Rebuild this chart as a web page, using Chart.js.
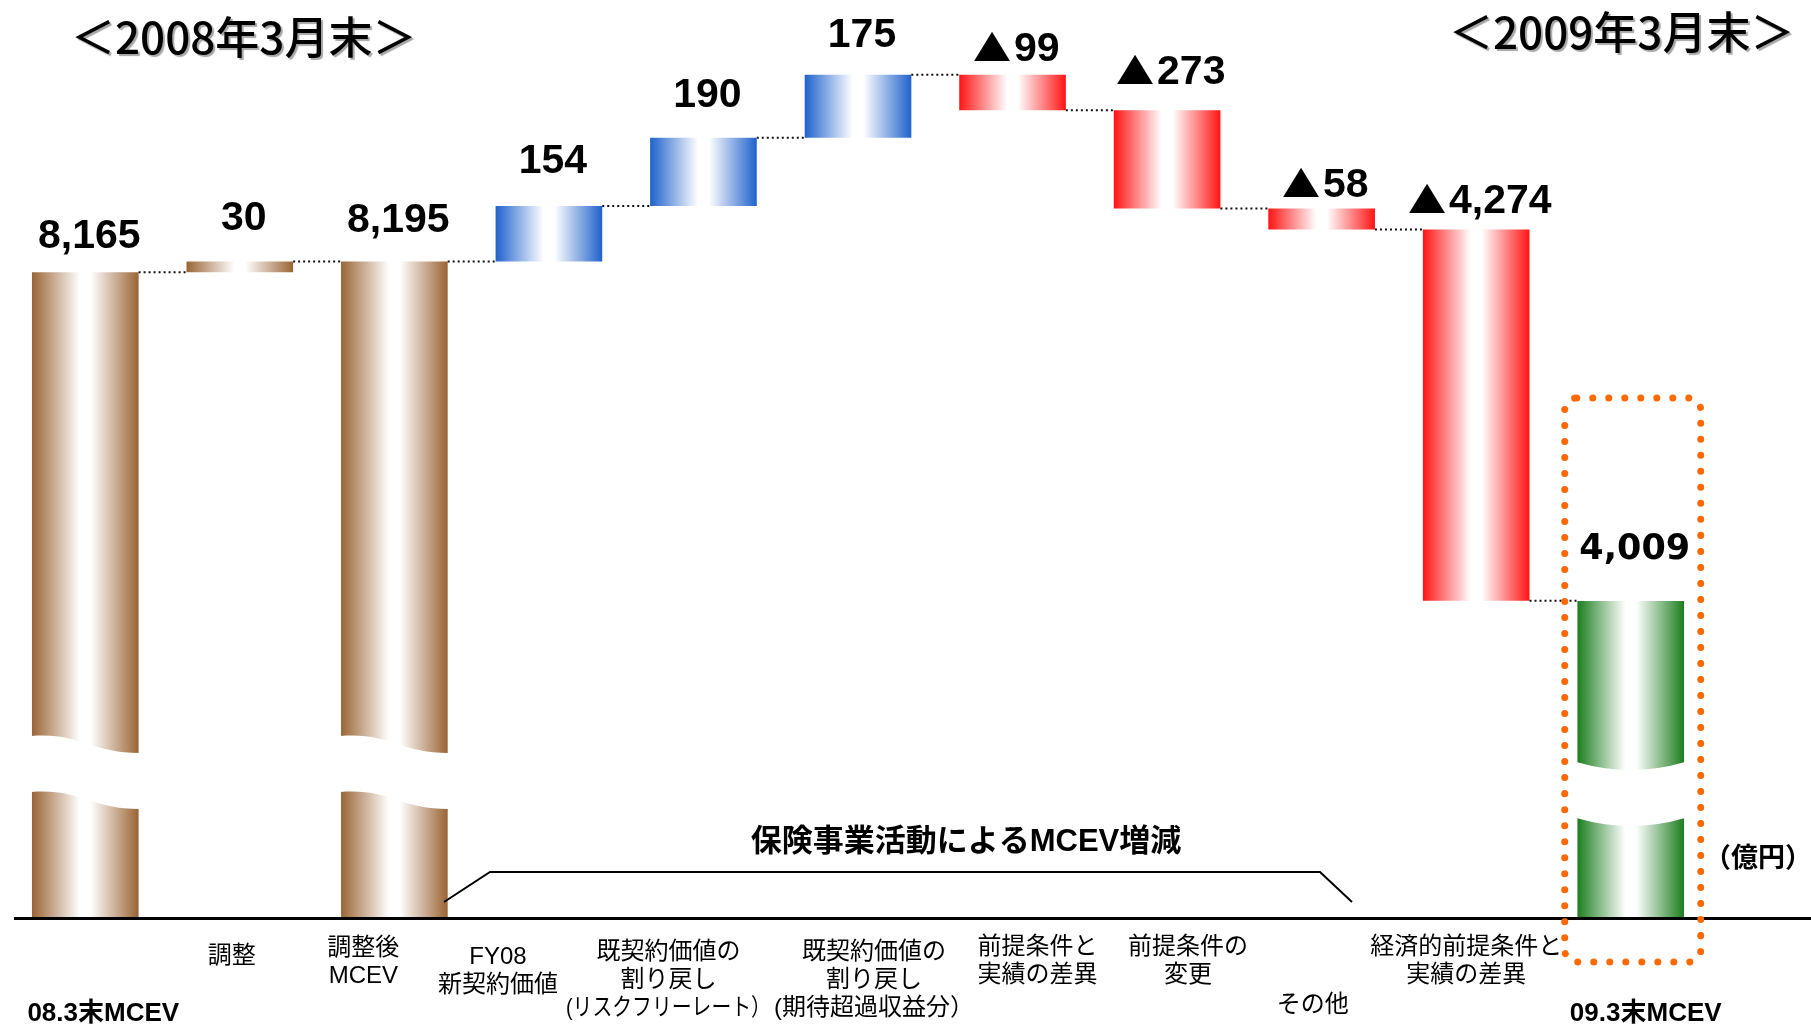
<!DOCTYPE html>
<html><head><meta charset="utf-8">
<script src="https://cdn.jsdelivr.net/npm/chart.js@4.4.1/dist/chart.umd.min.js"></script>
<style>html,body{margin:0;padding:0;background:#fff;overflow:hidden}#wrap{position:relative;width:1811px;height:1024px}</style>
</head><body><div id="wrap"><canvas id="c" width="1811" height="1024"></canvas></div>
<script>
// ---------------- data ----------------
const categories = [
  ['08.3末MCEV'],
  ['調整'],
  ['調整後', 'MCEV'],
  ['FY08', '新契約価値'],
  ['既契約価値の', '割り戻し', '(リスクフリーレート）'],
  ['既契約価値の', '割り戻し', '(期待超過収益分）'],
  ['前提条件と', '実績の差異'],
  ['前提条件の', '変更'],
  ['その他'],
  ['経済的前提条件と', '実績の差異'],
  ['09.3末MCEV']
];
const changes  = [8165, 30, 8195, 154, 190, 175, -99, -273, -58, -4274, 4009];
const barKinds = ['total', 'delta', 'total', 'delta', 'delta', 'delta', 'delta', 'delta', 'delta', 'delta', 'total'];
const headerLeft  = '＜2008年3月末＞';
const headerRight = '＜2009年3月末＞';
const groupTitle  = '保険事業活動によるMCEV増減';
const unitLabel   = '（億円）';

// ---------------- styles ----------------
const palette = { brown: '#9A6434', blue: '#1F62CC', red: '#FF1414', green: '#1C7E1E' };
const barColorKeys = ['brown', 'brown', 'brown', 'blue', 'blue', 'blue', 'red', 'red', 'red', 'red', 'green'];
const labelNudge = [[18, 96], [-8, 38], [-31, 30], [-51, 39], [-35, 34], [16, 34], [25, 29], [21, 29], [-9, 87], [-10, 29], [15, 96]];
const valueLift = [38, 45, 43, 47, 45, 42, 28, 40, 26, 30, 55];
const BAR_PCT = 0.69;

// floating ranges built from the changes
let running = 0;
const ranges = changes.map((v, i) => {
  if (barKinds[i] === 'total') { running = v; return [0, v]; }
  const s = running; running += v; return [s, running];
});

// ------------- custom scale: linear with a magnified upper band -------------
class ZoomedLinearScale extends Chart.LinearScale {
  _tf(v) { const z = this.options.zoomFrom ?? Infinity, f = this.options.zoomFactor ?? 1; return v <= z ? v : z + (v - z) * f; }
  _itf(t) { const z = this.options.zoomFrom ?? Infinity, f = this.options.zoomFactor ?? 1; return t <= z ? t : z + (t - z) / f; }
  getPixelForValue(value) {
    const a = this._tf(this.min), b = this._tf(this.max);
    return this.getPixelForDecimal((this._tf(value) - a) / (b - a));
  }
  getValueForPixel(pixel) {
    const a = this._tf(this.min), b = this._tf(this.max);
    return this._itf(a + this.getDecimalForPixel(pixel) * (b - a));
  }
}
ZoomedLinearScale.id = 'zoomedLinear';
ZoomedLinearScale.defaults = Chart.LinearScale.defaults;
Chart.register(ZoomedLinearScale);

function barGradient(c) {
  const ch = c.chart, xs = ch.scales && ch.scales.x;
  const col = palette[barColorKeys[c.dataIndex]];
  if (!xs || !ch.chartArea || !xs.width) return col;
  const cx = xs.getPixelForValue(c.dataIndex);
  const w = xs.width / categories.length * BAR_PCT;
  const g = ch.ctx.createLinearGradient(cx - w / 2, 0, cx + w / 2, 0);
  g.addColorStop(0, col);
  g.addColorStop(0.45, '#ffffff');
  g.addColorStop(0.55, '#ffffff');
  g.addColorStop(1, col);
  return g;
}

function fmt(n) { return n.toLocaleString('en-US'); }

function drawText(ctx, s, x, y, font, align, maxW) {
  ctx.font = font; ctx.textAlign = align || 'center'; ctx.textBaseline = 'middle'; ctx.fillStyle = '#000';
  if (maxW) ctx.fillText(s, x, y, maxW); else ctx.fillText(s, x, y);
}

function drawValue(ctx, v, cx, cy, wide) {
  const numFont = wide ? 'bold 35px "DejaVu Sans"' : 'bold 41px "Liberation Sans", "DejaVu Sans"';
  const num = fmt(Math.abs(v));
  ctx.fillStyle = '#000'; ctx.textBaseline = 'alphabetic'; ctx.textAlign = 'left';
  ctx.font = numFont;
  const numW = ctx.measureText(num).width;
  const capH = ctx.measureText('8').actualBoundingBoxAscent;
  const yb = cy + capH / 2;
  if (v >= 0) { ctx.textAlign = 'center'; ctx.fillText(num, cx, yb); return; }
  ctx.font = 'bold 41px "Liberation Sans", "DejaVu Sans"';
  ctx.textAlign = 'left';
  const m = ctx.measureText('▲');
  const gw = m.actualBoundingBoxLeft + m.actualBoundingBoxRight;
  const gh = m.actualBoundingBoxAscent + m.actualBoundingBoxDescent;
  const th = capH * 1.05, tw = th * 1.27, gap = 3;
  const total = tw + gap + numW, x0 = cx - total / 2;
  ctx.save();
  ctx.translate(x0, yb); ctx.scale(tw / gw, th / gh);
  ctx.textAlign = 'left'; ctx.fillText('▲', m.actualBoundingBoxLeft, -m.actualBoundingBoxDescent);
  ctx.restore();
  ctx.font = numFont; ctx.textAlign = 'left'; ctx.textBaseline = 'alphabetic';
  ctx.fillText(num, x0 + tw + gap, yb);
}

const decor = {
  id: 'decor',
  afterDatasetsDraw(chart) {
    const { ctx, scales: { x, y } } = chart;
    const meta = chart.getDatasetMeta(0);
    const y0 = y.getPixelForValue(0);
    ctx.save();

    // axis break gaps
    [0, 2].forEach(i => {
      const el = meta.data[i]; const L = el.x - el.width / 2 - 1, R = el.x + el.width / 2 + 1, w = R - L;
      ctx.beginPath();
      ctx.moveTo(L, y0 - 182);
      ctx.bezierCurveTo(L + w * 0.45, y0 - 186, L + w * 0.55, y0 - 165, R, y0 - 165);
      ctx.lineTo(R, y0 - 109);
      ctx.bezierCurveTo(L + w * 0.55, y0 - 109, L + w * 0.45, y0 - 130, L, y0 - 126);
      ctx.closePath(); ctx.fillStyle = '#fff'; ctx.fill();
    });
    {
      const el = meta.data[10]; const L = el.x - el.width / 2 - 1, R = el.x + el.width / 2 + 1, cx = el.x;
      ctx.beginPath();
      ctx.moveTo(L, y0 - 156);
      ctx.quadraticCurveTo(cx, y0 - 140, R, y0 - 156);
      ctx.lineTo(R, y0 - 100);
      ctx.quadraticCurveTo(cx, y0 - 84, L, y0 - 100);
      ctx.closePath(); ctx.fillStyle = '#fff'; ctx.fill();
    }

    // dotted connectors
    ctx.setLineDash([2, 3]); ctx.lineWidth = 2; ctx.strokeStyle = '#111';
    for (let i = 0; i < meta.data.length - 1; i++) {
      const a = meta.data[i], b = meta.data[i + 1];
      const yy = y.getPixelForValue(ranges[i][1]);
      ctx.beginPath(); ctx.moveTo(a.x + a.width / 2, yy); ctx.lineTo(b.x - b.width / 2, yy); ctx.stroke();
    }
    ctx.setLineDash([]);

    // baseline
    ctx.beginPath(); ctx.lineWidth = 3; ctx.strokeStyle = '#000';
    ctx.moveTo(14, y0 + 0.5); ctx.lineTo(1811, y0 + 0.5); ctx.stroke();

    // value labels
    meta.data.forEach((el, i) => {
      const top = Math.min(el.y, el.base);
      drawValue(ctx, changes[i], el.x + 4, top - valueLift[i], i === meta.data.length - 1);
    });

    // category labels
    categories.forEach((lines, i) => {
      const cx = x.getPixelForValue(i) + labelNudge[i][0];
      const bold = barKinds[i] === 'total' && lines.length === 1;
      const font = bold ? 'bold 26px "Liberation Sans", "Noto Sans CJK JP"' : '24px "Liberation Sans", "Noto Sans CJK JP"';
      lines.forEach((ln, k) => drawText(ctx, ln, cx, y0 + labelNudge[i][1] + k * 28, font, 'center', 205));
    });

    // headers with shadow
    ctx.save();
    ctx.shadowColor = 'rgba(0,0,0,0.35)'; ctx.shadowOffsetX = 2; ctx.shadowOffsetY = 2; ctx.shadowBlur = 1;
    drawText(ctx, headerLeft, 71, 37, '500 44px "Noto Sans CJK JP"', 'left');
    drawText(ctx, headerRight, 1449, 32, '500 44px "Noto Sans CJK JP"', 'left');
    ctx.restore();

    // group title + bracket
    drawText(ctx, groupTitle, 966, 842, 'bold 31px "Liberation Sans", "Noto Sans CJK JP"');
    ctx.beginPath(); ctx.lineWidth = 2; ctx.strokeStyle = '#000';
    ctx.moveTo(444, 902); ctx.lineTo(490, 872); ctx.lineTo(1320, 872); ctx.lineTo(1352, 902); ctx.stroke();

    // unit
    drawText(ctx, unitLabel, 1758, 857, 'bold 27px "Noto Sans CJK JP"');

    // orange dotted highlight box around final bar
    {
      const el = meta.data[10];
      const L = el.x - 66, R = el.x + 70, T = el.y - 203, B = y0 + 44;
      ctx.beginPath(); ctx.roundRect(L, T, R - L, B - T, 12);
      ctx.setLineDash([0.01, 16]); ctx.lineCap = 'round'; ctx.lineWidth = 7; ctx.strokeStyle = '#FF6A00'; ctx.stroke();
      ctx.setLineDash([]); ctx.lineCap = 'butt';
    }
    ctx.restore();
  }
};

new Chart(document.getElementById('c').getContext('2d'), {
  type: 'bar',
  data: {
    labels: categories,
    datasets: [{ data: ranges, backgroundColor: barGradient, borderWidth: 0, borderSkipped: false,
      barPercentage: BAR_PCT, categoryPercentage: 1 }]
  },
  options: {
    responsive: false, animation: false, devicePixelRatio: 1,
    layout: { padding: { left: 8, right: 103, top: 20, bottom: 106 } },
    plugins: { legend: { display: false }, tooltip: { enabled: false }, title: { display: false } },
    scales: {
      x: { display: false },
      y: { type: 'zoomedLinear', display: false, min: 0, max: 8866, zoomFrom: 8165, zoomFactor: 4.55 }
    }
  },
  plugins: [decor]
});
</script></body></html>
